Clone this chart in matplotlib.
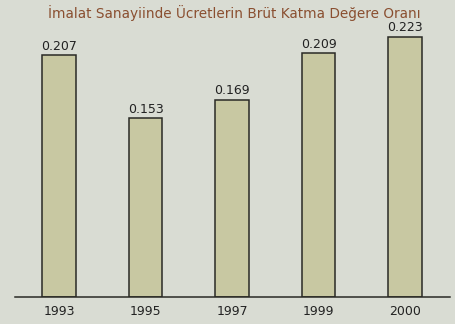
import matplotlib
matplotlib.use("Agg")
from matplotlib import pyplot as plt

# Data
years = ['1993', '1995', '1997', '1999', '2000']
ratios = [0.207, 0.153, 0.169, 0.209, 0.223]
title = "İmalat Sanayiinde Ücretlerin Brüt Katma Değere Oranı"

bg = '#d9dcd3'
bar_color = '#c8c8a2'
ink = '#222222'

fig = plt.figure(figsize=(4.55, 3.24), dpi=100)
fig.patch.set_facecolor(bg)
ax = fig.add_axes([0.033, 0.083, 0.956, 0.901])
ax.set_facecolor(bg)

x = range(len(years))
bars = ax.bar(x, ratios, width=0.39, color=bar_color,
              edgecolor='#2a2a25', linewidth=1.1)

# value labels above each bar
for b, v in zip(bars, ratios):
    ax.text(b.get_x() + b.get_width() / 2, v + 0.002, f"{v:.3f}",
            ha='center', va='bottom', fontsize=9, color=ink,
            family='DejaVu Sans')

ax.set_xlim(-0.509, 4.52)
ax.set_ylim(0, 0.25)
ax.set_xticks(list(x))
ax.set_xticklabels(years, fontsize=9, color=ink, family='DejaVu Sans')
ax.tick_params(axis='x', length=0, pad=6)
ax.set_yticks([])
for side in ['left', 'right', 'top']:
    ax.spines[side].set_visible(False)
ax.spines['bottom'].set_color('#2a2a25')
ax.spines['bottom'].set_linewidth(1.1)

fig.text(0.515, 0.96, title, ha='center', va='center', fontsize=9.8,
         color='#8a4f30', family='DejaVu Sans')

fig.savefig('out.png', dpi=100, facecolor=bg)
